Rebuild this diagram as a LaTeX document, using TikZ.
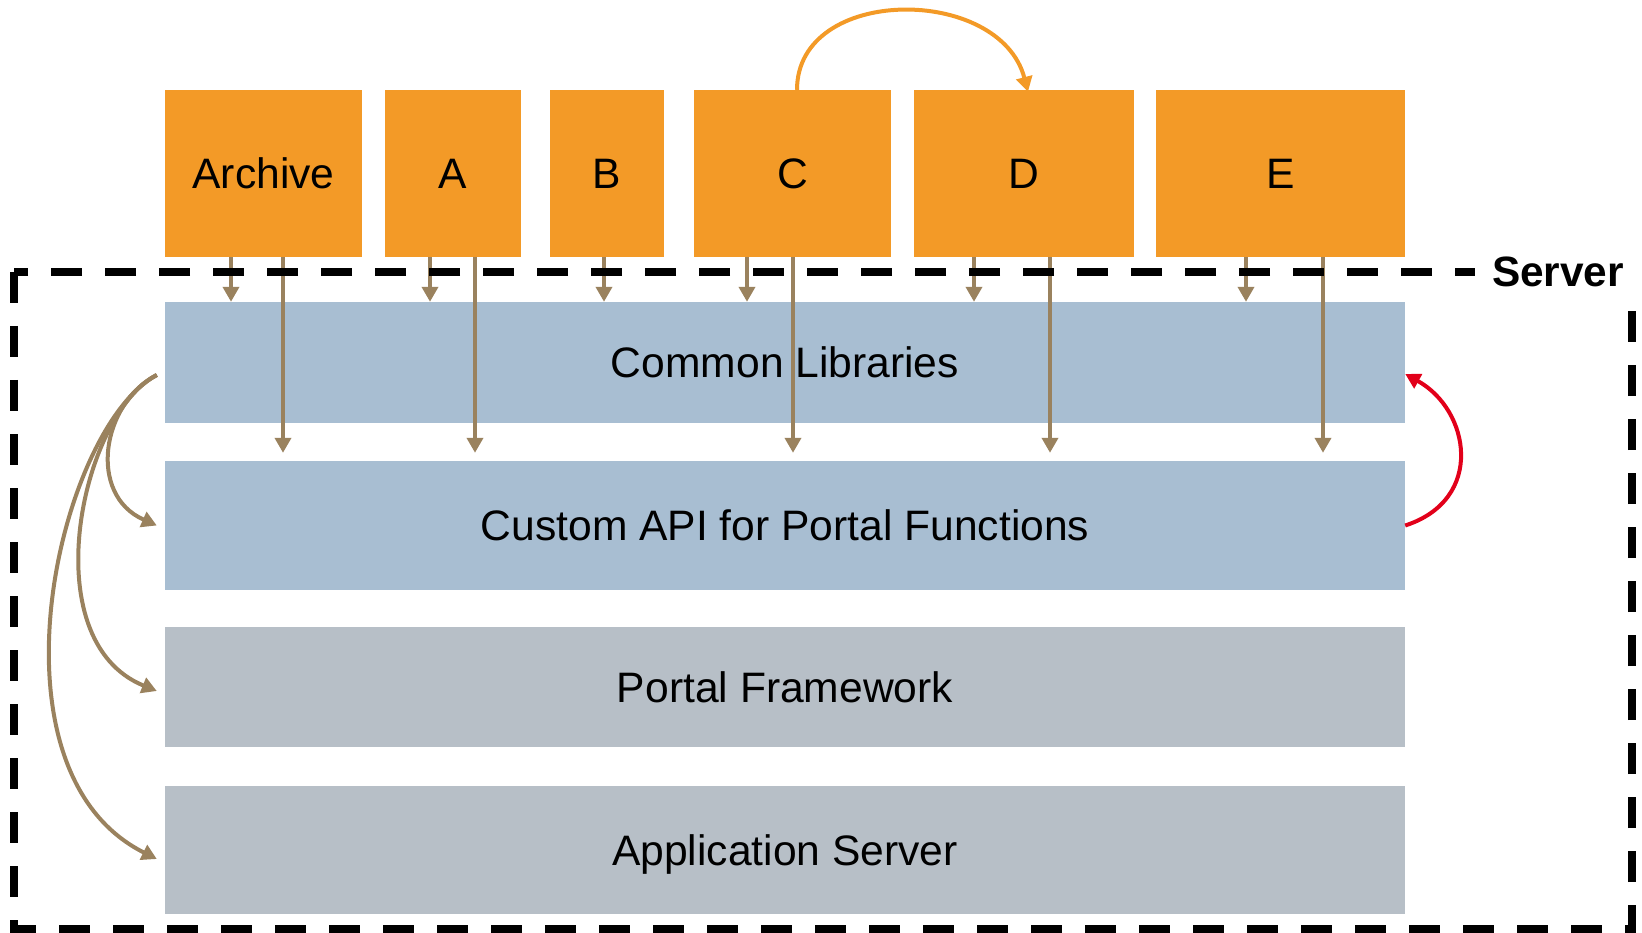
\documentclass[tikz,border=0pt]{standalone}
\usepackage{fontspec}
\setmainfont{Liberation Sans}
\usetikzlibrary{arrows.meta,positioning}
\definecolor{modorange}{HTML}{F39A27}
\definecolor{layerblue}{HTML}{A8BED2}
\definecolor{layergrey}{HTML}{B7BFC7}
\definecolor{deptan}{HTML}{9A825E}
\definecolor{callred}{HTML}{E2001A}

\begin{document}
\begin{tikzpicture}[x=1pt,y=-1pt,
	module/.style={fill=modorange,inner sep=0pt,minimum height=167pt,
		text height=30pt,text depth=0pt,font=\fontsize{42.6}{50}\selectfont},
	layer/.style={inner sep=0pt,minimum width=1240pt,
		text height=30pt,text depth=0pt,font=\fontsize{42.6}{50}\selectfont},
	tip/.style={-{Triangle[width=16pt,length=15pt]}},
	dep/.style={draw=deptan,line width=4pt,tip},
	srvframe/.style={line width=8pt,dash pattern=on 31pt off 23pt},
	srvtag/.style={fill=white,inner sep=0pt,minimum width=166pt,minimum height=62pt,
		text height=30pt,text depth=0pt,font=\bfseries\fontsize{42.4}{50}\selectfont}
	]
	\useasboundingbox (0,0) rectangle (1642,933);
	% portal modules
	\node[module,minimum width=197pt] (Arch) at (263.5,173.5) {Archive};
	\node[module,minimum width=136pt] (A) at (453,173.5) {A};
	\node[module,minimum width=114pt] (B) at (607,173.5) {B};
	\node[module,minimum width=197pt] (C) at (792.5,173.5) {C};
	\node[module,minimum width=220pt] (D) at (1024,173.5) {D};
	\node[module,minimum width=249pt] (E) at (1280.5,173.5) {E};
	% server layers
	\node[layer,fill=layerblue,minimum height=121pt] (CL) at (785,362.5) {Common Libraries};
	\node[layer,fill=layerblue,minimum height=129pt] (API) at (785,525.5) {Custom API for Portal Functions};
	\node[layer,fill=layergrey,minimum height=120pt] (PF) at (785,687) {Portal Framework};
	\node[layer,fill=layergrey,minimum height=128pt] (AS) at (785,850) {Application Server};
	
	\foreach \n/\dx in {Arch/-32.5,A/-23,B/-3,C/-45.5,D/-50,E/-34.5}
		\draw[dep] ([xshift=\dx pt]\n.south) -- ([xshift=\dx pt]\n.south |- CL.north);
	\foreach \n/\dx in {Arch/19.5,A/22,C/0.5,D/26,E/42.5}
		\draw[dep,shorten >=8pt] ([xshift=\dx pt]\n.south) -- ([xshift=\dx pt]\n.south |- API.north);
	
	\coordinate (src) at ([xshift=-8pt,yshift=-12.5pt]CL.west);
	\draw[dep] (src) .. controls +(-55,28) and +(-70,-31) .. ([xshift=-8pt]API.west);
	\draw[dep] (src) .. controls +(-75,38) and +(-125,-51) .. ([xshift=-8pt,yshift=-4pt]PF.west);
	\draw[dep] (src) .. controls +(-98,52) and +(-178,-89) .. ([xshift=-8pt,yshift=-9pt]AS.west);
	
	\draw[callred,line width=4pt,tip] (API.east) .. controls +(80,-26) and +(65,36) .. ([yshift=-11.5pt]CL.east);
	\draw[modorange,line width=4pt,tip] ([xshift=4.5pt]C.north) .. controls +(0,-105) and +(-28,-107) .. ([xshift=4pt,yshift=-2pt]D.north);
	
	\draw[srvframe] (14,272) rectangle (1632,929);
	\node[srvtag] (srvlbl) at (1558,272) {Server};
\end{tikzpicture}
\end{document}
